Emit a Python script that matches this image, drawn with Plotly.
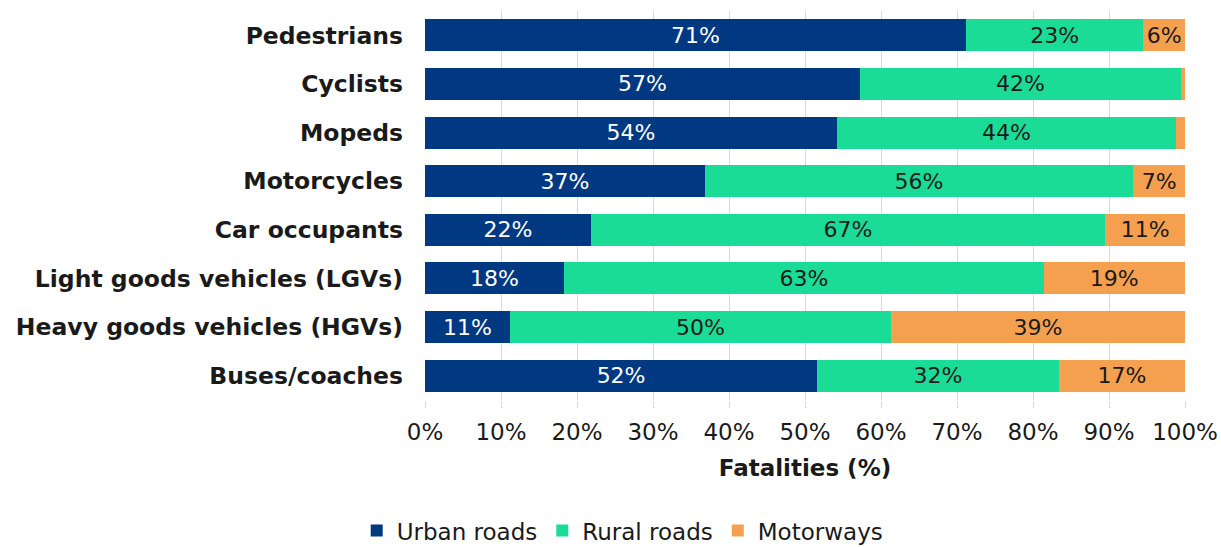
import plotly.graph_objects as go

categories = ["Pedestrians", "Cyclists", "Mopeds", "Motorcycles", "Car occupants",
              "Light goods vehicles (LGVs)", "Heavy goods vehicles (HGVs)", "Buses/coaches"]
urban = [71.2, 57.2, 54.2, 36.8, 21.8, 18.3, 11.2, 51.6]
rural = [23.3, 42.3, 44.6, 56.4, 67.7, 63.1, 50.1, 31.8]
motorways = [5.5, 0.5, 1.2, 6.8, 10.5, 18.6, 38.7, 16.6]
urban_labels = ["71%", "57%", "54%", "37%", "22%", "18%", "11%", "52%"]
rural_labels = ["23%", "42%", "44%", "56%", "67%", "63%", "50%", "32%"]
motorway_labels = ["6%", "", "", "7%", "11%", "19%", "39%", "17%"]
tick_vals = [0, 10, 20, 30, 40, 50, 60, 70, 80, 90, 100]
tick_text = ["0%", "10%", "20%", "30%", "40%", "50%", "60%", "70%", "80%", "90%", "100%"]

FONT = "DejaVu Sans"
series = [
    ("Urban roads", urban, urban_labels, "#003882", "white"),
    ("Rural roads", rural, rural_labels, "#1ADC96", "#1a1a1a"),
    ("Motorways", motorways, motorway_labels, "#F4A04F", "#1a1a1a"),
]

fig = go.Figure()
for name, vals, labels, color, tcolor in series:
    fig.add_trace(go.Bar(
        y=categories, x=vals, name=name, orientation="h",
        marker=dict(color=color, line=dict(width=0)),
        text=labels, textposition="inside", insidetextanchor="middle",
        textangle=0, constraintext="none",
        textfont=dict(family=FONT, size=22, color=tcolor),
        cliponaxis=False,
    ))

fig.update_layout(
    barmode="stack", bargap=0.34,
    width=1221, height=547,
    margin=dict(l=425, r=36, t=11, b=147, autoexpand=False),
    paper_bgcolor="white", plot_bgcolor="white",
    font=dict(family=FONT, size=22, color="#1a1a1a"),
    xaxis=dict(
        range=[0, 100], tickvals=tick_vals, ticktext=tick_text,
        showgrid=True, gridcolor="#d9d9d9", gridwidth=1,
        ticks="outside", ticklen=7, tickcolor="#d9d9d9",
        zeroline=False, showline=False,
        tickfont=dict(family=FONT, size=23, color="#1a1a1a"),
        ticklabelstandoff=4,
        title=dict(text="<b>Fatalities (%)</b>", font=dict(family=FONT, size=23), standoff=16),
        fixedrange=True, automargin=False,
    ),
    yaxis=dict(
        categoryorder="array", categoryarray=categories[::-1],
        tickvals=categories, ticktext=[f"<b>{c}</b>" for c in categories],
        tickfont=dict(family=FONT, size=23.5, color="#1a1a1a"),
        ticklabelstandoff=21, showgrid=False, zeroline=False,
        fixedrange=True, automargin=False,
    ),
    legend=dict(
        orientation="h", xref="container", yref="container",
        x=0.51, xanchor="center", y=0.03, yanchor="middle",
        font=dict(family=FONT, size=23), traceorder="normal",
        itemwidth=30, tracegroupgap=0,
    ),
    showlegend=True,
)

fig.write_html("out.html", config={"displayModeBar": False},
               post_script="document.body.style.margin='0px';document.body.style.overflow='hidden';")
